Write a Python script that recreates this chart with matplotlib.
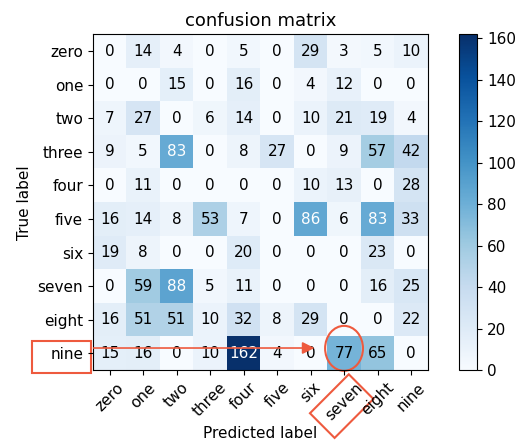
import numpy as np
import matplotlib
matplotlib.use("Agg")
import matplotlib.pyplot as plt
from matplotlib.patches import Rectangle, Ellipse

classes = ["zero", "one", "two", "three", "four", "five", "six", "seven", "eight", "nine"]
cm = np.array([
    [0, 14, 4, 0, 5, 0, 29, 3, 5, 10],
    [0, 0, 15, 0, 16, 0, 4, 12, 0, 0],
    [7, 27, 0, 6, 14, 0, 10, 21, 19, 4],
    [9, 5, 83, 0, 8, 27, 0, 9, 57, 42],
    [0, 11, 0, 0, 0, 0, 10, 13, 0, 28],
    [16, 14, 8, 53, 7, 0, 86, 6, 83, 33],
    [19, 8, 0, 0, 20, 0, 0, 0, 23, 0],
    [0, 59, 88, 5, 11, 0, 0, 0, 16, 25],
    [16, 51, 51, 10, 32, 8, 29, 0, 0, 22],
    [15, 16, 0, 10, 162, 4, 0, 77, 65, 0],
])

red = "#ee5a3e"

fig = plt.figure(figsize=(5.16, 4.46), dpi=100)
ax = fig.add_axes([0.180, 0.170, 0.649, 0.753])
cax = fig.add_axes([0.890, 0.170, 0.035, 0.753])

im = ax.imshow(cm, interpolation="nearest", cmap=plt.cm.Blues, aspect="auto")
ax.set_title("confusion matrix", fontsize=13)
cb = fig.colorbar(im, cax=cax)
cb.ax.tick_params(labelsize=11)

ticks = np.arange(len(classes))
ax.set_xticks(ticks)
ax.set_xticklabels(classes, rotation=45, fontsize=11)
ax.set_yticks(ticks)
ax.set_yticklabels(classes, fontsize=11)

thresh = cm.max() / 2.
for i in range(cm.shape[0]):
    for j in range(cm.shape[1]):
        ax.text(j, i, format(cm[i, j], "d"), ha="center", va="center", fontsize=11,
                color="white" if cm[i, j] > thresh else "black")

ax.set_ylabel("True label", fontsize=11)
ax.set_xlabel("Predicted label", fontsize=11, labelpad=2)

# red markings
ax.add_patch(Rectangle((-2.32, 8.63), 1.76, 0.96, fill=False, ec=red, lw=1.5, clip_on=False))
ax.annotate("", xy=(6.2, 8.84), xytext=(-0.56, 8.84), annotation_clip=False,
            arrowprops=dict(arrowstyle="-|>", color=red, lw=1.2, mutation_scale=18))
ax.add_patch(Ellipse((7.0, 8.85), 1.13, 1.34, fill=False, ec=red, lw=1.5, clip_on=False))
ax.add_patch(Rectangle((6.11, 10.05), 1.64, 1.04, angle=-45, rotation_point="center",
                       fill=False, ec=red, lw=1.5, clip_on=False))

fig.savefig("out.png", dpi=100)
